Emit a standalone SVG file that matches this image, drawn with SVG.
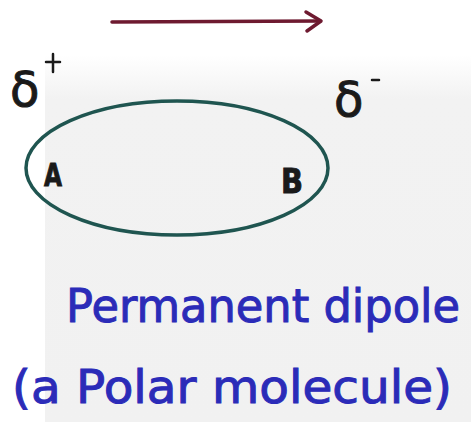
<svg xmlns="http://www.w3.org/2000/svg" width="471" height="422" viewBox="0 0 471 422">
<style>
.hand{font-family:"DejaVu Sans","Liberation Sans",sans-serif;}
.blue{fill:#2b2bb8;stroke:#2b2bb8;stroke-width:1;font-size:46px;}
.blk{fill:#1a1a1a;stroke:#1a1a1a;stroke-width:1;}
</style>
<defs>
<linearGradient id="bg" x1="0" y1="0" x2="0" y2="1">
<stop offset="0" stop-color="#ffffff"/>
<stop offset="0.12" stop-color="#f2f2f2"/>
<stop offset="1" stop-color="#f1f1f1"/>
</linearGradient>
</defs>
<rect width="471" height="422" fill="#ffffff"/>
<rect x="45" y="55" width="426" height="367" fill="url(#bg)"/>
<g id="arrow">
<path d="M112 22 L320 21" stroke="#6e1a30" stroke-width="3.5" fill="none" stroke-linecap="round"/>
<path d="M306 12 L321 21 L307 31" stroke="#6e1a30" stroke-width="3.5" fill="none" stroke-linecap="round" stroke-linejoin="round"/>
</g>
<g id="delta-plus">
<text class="hand blk" x="10" y="106" font-size="48" font-weight="normal">δ</text>
<path d="M46 62 H60 M53 54 V72" stroke="#1a1a1a" stroke-width="2.5" fill="none" stroke-linecap="round"/>
</g>
<g id="delta-minus">
<text class="hand blk" x="334" y="116" font-size="48">δ</text>
<path d="M372 80 H379" stroke="#1a1a1a" stroke-width="2.5" fill="none" stroke-linecap="round"/>
</g>
<g id="molecule">
<ellipse cx="177" cy="168" rx="151" ry="67" fill="none" stroke="#1f5550" stroke-width="3.5"/>
<text class="hand blk" x="44" y="186" font-size="32" font-weight="bold" textLength="18" lengthAdjust="spacingAndGlyphs">A</text>
<text class="hand blk" x="281" y="193" font-size="34" font-weight="bold" textLength="22" lengthAdjust="spacingAndGlyphs">B</text>
</g>
<g id="caption">
<text class="hand blue" x="66" y="322" textLength="394" lengthAdjust="spacingAndGlyphs">Permanent dipole</text>
<text class="hand blue" x="12" y="403" textLength="440" lengthAdjust="spacingAndGlyphs">(a  Polar molecule)</text>
</g>
</svg>
